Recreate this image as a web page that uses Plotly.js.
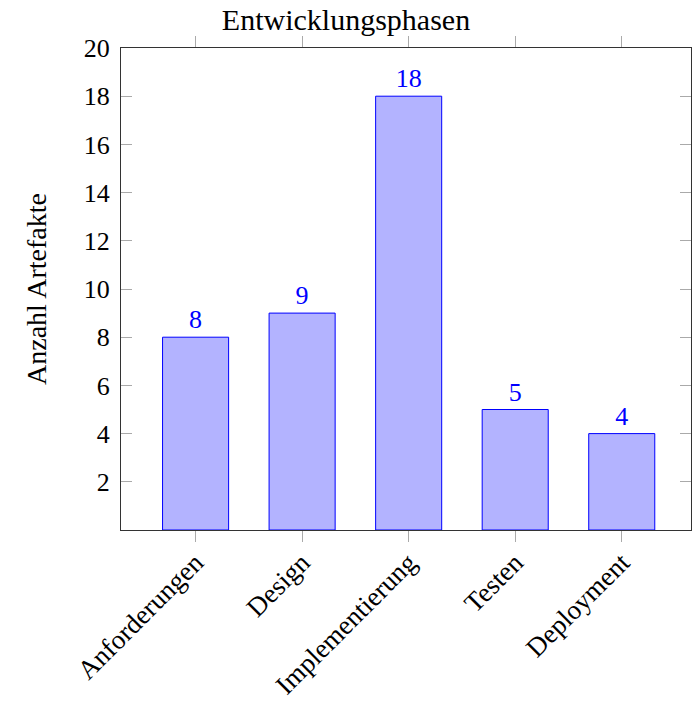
<!DOCTYPE html>
<html><head><meta charset="utf-8">
<script src="https://cdn.plot.ly/plotly-3.0.1.min.js"></script>
<style>html,body{margin:0;padding:0;background:#fff}</style>
</head><body>
<div id="chart" style="width:692px;height:703px"></div>
<script>
const categories = ["Anforderungen", "Design", "Implementierung", "Testen", "Deployment"];
const values = [8, 9, 18, 5, 4];
const yTicks = [2, 4, 6, 8, 10, 12, 14, 16, 18, 20];

const font = "Liberation Serif, Times New Roman, serif";
Plotly.newPlot("chart", [{
  type: "bar",
  x: categories,
  y: values,
  width: 0.62,
  marker: {color: "rgb(179,179,255)", line: {color: "rgb(0,0,255)", width: 1}},
  text: values.map(String),
  textposition: "outside",
  cliponaxis: false,
  textfont: {family: font, size: 26, color: "rgb(0,0,255)"},
  hoverinfo: "none"
}], {
  width: 692, height: 703,
  margin: {l: 121, r: 1, t: 48, b: 173},
  paper_bgcolor: "#fff", plot_bgcolor: "#fff",
  showlegend: false,
  font: {family: font, size: 26, color: "#000"},
  title: {text: "Entwicklungsphasen", x: 0.5, xanchor: "center", y: 0.972, yanchor: "middle", font: {family: font, size: 30}},
  xaxis: {
    type: "category",
    range: [-0.70, 4.65],
    tickangle: -45,
    ticks: "outside", ticklen: 11, tickcolor: "#aaa", tickwidth: 1,
    ticklabelstandoff: -6,
    showline: true, linecolor: "#333", linewidth: 1, mirror: "ticks",
    showgrid: false, zeroline: false,
    tickfont: {family: font, size: 27}
  },
  yaxis: {
    range: [0, 20],
    tickvals: yTicks,
    ticktext: yTicks.map(String),
    ticks: "inside", ticklen: 11, tickcolor: "#aaa", tickwidth: 1,
    ticklabelstandoff: 5,
    showline: true, linecolor: "#333", linewidth: 1, mirror: "ticks",
    showgrid: false, zeroline: false,
    tickfont: {family: font, size: 26},
    title: {text: "Anzahl Artefakte", font: {family: font, size: 28}, standoff: 28}
  },
  bargap: 0.38
}, {displayModeBar: false, staticPlot: true});
</script>
</body></html>
